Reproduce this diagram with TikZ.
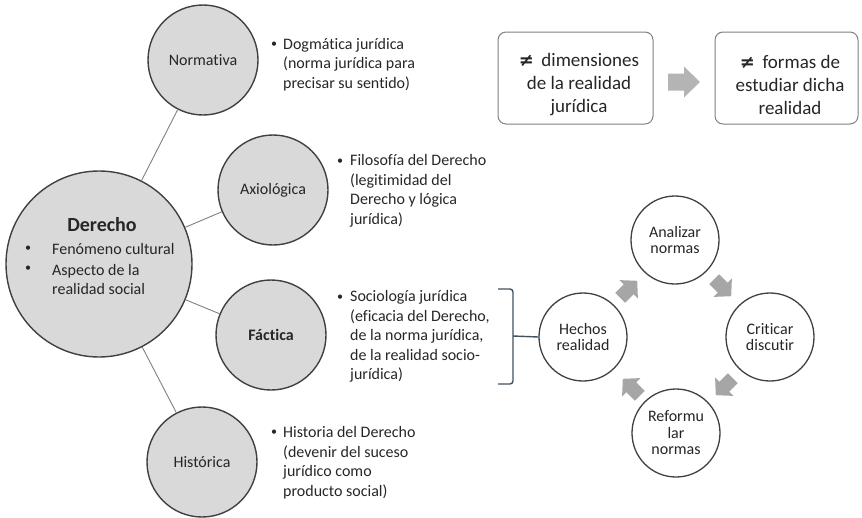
\documentclass[tikz,border=0pt]{standalone}
\usepackage{fontspec}
\setmainfont{Carlito}[Ligatures={NoCommon}]
\newfontfamily\symfont{DejaVu Sans}
\usetikzlibrary{calc}
\definecolor{txt}{HTML}{262626}
\definecolor{cfill}{HTML}{D9D9D9}
\definecolor{cdraw}{HTML}{404040}
\definecolor{linkc}{HTML}{808080}
\definecolor{arrc}{HTML}{A6A6A6}
\definecolor{arrtop}{HTML}{B4B4B4}
\definecolor{brc}{HTML}{44505C}
\begin{document}
\begin{tikzpicture}[x=1pt,y=-1pt,
  font=\fontsize{16}{19.5}\selectfont, text=txt,
  sat/.style={circle, draw=cdraw, line width=1.4pt, fill=cfill, minimum size=110pt, inner sep=0pt},
  big/.style={circle, draw=cdraw, line width=1.4pt, fill=cfill, minimum size=186pt, inner sep=0pt},
  cyc/.style={circle, draw=cdraw, line width=1.3pt, fill=white, minimum size=88pt, inner sep=0pt, align=center, font=\fontsize{16}{16.5}\selectfont},
  link/.style={draw=linkc, line width=0.9pt},
  desc/.style={anchor=west, align=left, inner sep=0pt},
  bul/.style={inner sep=0pt, font=\fontsize{12}{12}\selectfont},
  topbox/.style={draw=linkc, line width=1pt, rounded corners=8pt, fill=white, inner sep=0pt, minimum height=92pt},
  boxtext/.style={align=center, font=\fontsize{19}{23}\selectfont, inner sep=0pt},
  pics/cycarrow/.style={code={\fill[arrc] (-11,-7) -- (1,-7) -- (1,-13) -- (13,0) -- (1,13) -- (1,7) -- (-11,7) -- cycle;}},
  pics/toparrow/.style={code={\fill[arrtop] (-16,-8.5) -- (0,-8.5) -- (0,-15.5) -- (16,0) -- (0,15.5) -- (0,8.5) -- (-16,8.5) -- cycle;}}
]
\useasboundingbox (0,0) rectangle (862,517);

% main circle
\node[big] (der) at (99,264) {};
\node[font=\fontsize{20}{24}\selectfont\bfseries, inner sep=0pt] (derT) at (102,225) {Derecho};
\node[bul] (db1) at (28,249) {•};
\node[desc] (dt1) at (52,249) {Fenómeno cultural};
\node[bul] (db2) at (28,269) {•};
\node[desc] (dt2) at (52,279.5) {Aspecto de la\\realidad social};

% satellites
\node[sat] (norm) at (203,60) {Normativa};
\node[sat] (axio) at (273,190) {Axiológica};
\node[sat] (fact) at (271,335) {\bfseries Fáctica};
\node[sat] (hist) at (202,462) {Histórica};

\draw[link] (der) -- (norm);
\draw[link] (der) -- (axio);
\draw[link] (der) -- (fact);
\draw[link] (der) -- (hist);

% descriptions
\node[bul] (nb) at (274,45) {•};
\node[desc] (nd) at (283,64.5) {Dogmática jurídica\\(norma jurídica para\\precisar su sentido)};
\node[bul] (ab) at (340,162) {•};
\node[desc] (ad) at (350,191) {Filosofía del Derecho\\(legitimidad del\\Derecho y lógica\\jurídica)};
\node[bul] (fb) at (340,298) {•};
\node[desc] (fd) at (350,336.5) {Sociología jurídica\\(eficacia del Derecho,\\de la norma jurídica,\\de la realidad socio-\\jurídica)};
\node[bul] (hb) at (274,433) {•};
\node[desc] (hd) at (283,462.5) {Historia del Derecho\\(devenir del suceso\\jurídico como\\producto social)};

% cycle
\node[cyc] (ana) at (675,240) {Analizar\\normas};
\node[cyc] (cri) at (770,337) {Criticar\\discutir};
\node[cyc] (ref) at (676,433) {Reformu\\lar\\normas};
\node[cyc] (hec) at (583,337) {Hechos\\realidad};
\coordinate (cc) at (676,337);
\pic[rotate=45] at ($(cc)+(-48,-47)$) {cycarrow};
\pic[rotate=-45] at ($(cc)+(46,-50)$) {cycarrow};
\pic[rotate=-135] at ($(cc)+(49,49)$) {cycarrow};
\pic[rotate=135] at ($(cc)+(-44,51)$) {cycarrow};

% bracket
\coordinate (brT) at (498,289);
\coordinate (brB) at (498,384);
\coordinate (brM) at (513,336);
\draw[brc, line width=1.4pt, rounded corners=3pt] (brT) -- (513,289) -- (513,384) -- (brB);
\draw[brc, line width=1.4pt] (brM) -- (hec.west);

% top boxes
\node[topbox, minimum width=155pt] (box1) at (575.5,78) {};
\node[boxtext] (box1t) at (579,85) {{\symfont\bfseries\fontsize{18}{23}\selectfont ≠}\, dimensiones\\de la realidad\\jurídica};
\node[topbox, minimum width=143pt] (box2) at (786.5,78) {};
\node[boxtext] (box2t) at (790,85) {{\symfont\bfseries\fontsize{18}{23}\selectfont ≠}\, formas de\\estudiar dicha\\realidad};
\pic at ($(box1.east)!0.5!(box2.west)+(0,4)$) {toparrow};
\end{tikzpicture}
\end{document}
